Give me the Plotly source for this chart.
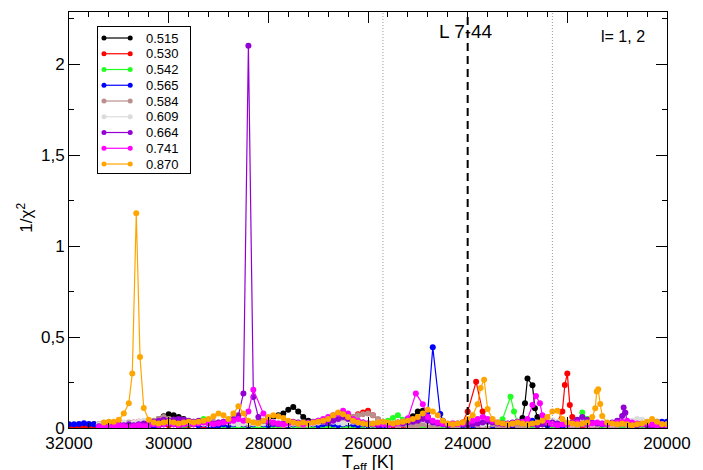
import plotly.graph_objects as go

N = None
# Teff grid (K), 32000 -> 20000 in steps of 100 K
teff = list(range(32000, 19999, -100))

masses = ["0.515", "0.530", "0.542", "0.565", "0.584", "0.609", "0.664", "0.741", "0.870"]
colors = ["#000000", "#ff0000", "#22ff22", "#0000ff", "#bc8f8f", "#dcdcdc", "#9400d3", "#ff00ff", "#ffa500"]

# ---- 0.515 (black)
black_vals = [
    N, N, N, N, N, .02, .015, .02, .01, .015, .02, .01, .015, .02, .01, .015, .02, .03, .05, .065,
    .075, .07, .06, .05, .035, .025, .02, .015, .02, .015, .01, .015, .02, .015, .01, .015, .02, .015, .02, .03,
    .045, .06, .07, .08, .10, .115, .09, .06, .04, .025, .02, .015, .02, .015, .02, .015, .02, .015, .01, .015,
    .02, .015, .02, .015, .02, .015, .02, .03, .045, .065, .09, .095, .06, .03, .02, .015, .02, .015, .01, .015,
    .02, .015, .02, .015, .02, .015, .02, .015, .02, .025, .035, .055, .272, .235, .06, .03, .02, .015, .02, .015,
    .02, .015, .02, .015, .02, .015, .01, .015, .02, .015, .02, .015, .01, .015, .02, .015, .01, .015, .02, .015,
    .02]
black_extra_t = [22850, 22650]
black_extra_v = [0.136, 0.108]

# ---- 0.530 (red)
red_vals = [
    .005, .005, .008, .01, .01, .012, .01, .012, .015, .02, .015, .02, .025, .03, .035, .02, .015, .01, .015, .02,
    .015, .02, .015, .01, .015, .02, .015, .01, .015, .02, .015, .01, .015, .02, .015, .01, .015, .02, .015, .01,
    .015, .02, .015, .01, .015, .02, .015, .01, .015, .02, .015, .02, .03, .025, .02, .03, .045, .06, .075, .085,
    .095, .07, .045, .03, .02, .015, .02, .015, .01, .015, .02, .015, .01, .015, .02, .015, .01, .015, .02, .03,
    .09, N, N, .09, .04, .02, .015, .02, .015, .01, .015, .02, .015, .01, .015, .02, .015, .02, .03, .09,
    .30, .06, .02, .015, .01, .015, .02, .015, .01, .015, .01, .015, .01, .005, .01, .005, .01, .005, .01, .005,
    .01]
red_extra_t = [23830, 22050, 21950]
red_extra_v = [0.254, 0.236, 0.126]

# ---- 0.542 (green)
green_vals = [
    N, N, N, N, N, N, N, .01, .015, .01, .015, .01, .015, .02, .015, .02, .025, .035, .045, .05,
    .04, .03, .02, .015, .02, .025, .035, .05, .04, .025, .015, .01, .015, .01, .005, .01, .015, .01, .005, .01,
    .01, .015, .01, .015, .02, .015, .01, .015, .01, .005, .01, .015, .01, .015, .02, .015, .01, .015, .01, .015,
    .02, .015, .02, .03, .04, .055, .07, .045, .03, .02, .015, .01, .015, .01, .005, .01, .015, .01, .005, .01,
    .015, .01, .015, .02, .015, .02, .025, .048, N, N, .03, .02, .015, .01, .015, .02, .015, .01, .015, .02,
    .015, .02, .04, .085, .05, .02, .015, .01, .015, .01, .005, .01, .015, .01, .005, .01, .005, .01, .005, .01,
    .01]
green_extra_t = [23140, 23070]
green_extra_v = [0.172, 0.09]

# ---- 0.565 (blue)
blue_vals = [
    .02, .02, .022, .026, .022, .02, .02, .022, .02, .018, .02, .015, .02, .01, .015, .02, .015, .01, .015, .02,
    .025, .02, .015, .02, .025, .02, .015, .02, .015, .01, .015, .02, .015, .02, .025, .02, .015, .02, .025, .02,
    .015, .02, .025, .02, .015, .02, .025, .03, .025, .02, .015, .02, .025, .02, .015, .02, .025, .02, .015, .02,
    .015, .02, .015, .01, .015, .02, .015, .02, .025, .03, .04, .06, .09, .443, N, .04, .02, .015, .02, .015,
    .02, .015, .01, .015, .02, .015, .02, .025, .02, .015, .02, .03, .035, .04, .03, .02, .015, .02, .015, .01,
    .015, .02, .015, .02, .025, .02, .015, .02, .025, .02, .015, .02, .025, .02, .025, .03, .025, .03, .035, .035,
    .035]
blue_extra_t = [24550]
blue_extra_v = [0.077]

# ---- 0.584 (rosy brown)
brown_vals = [
    N, N, N, N, N, N, .02, .025, .02, .03, .025, .02, .03, .025, .02, .03, .035, .04, .05, .06,
    .05, .045, .04, .035, .03, .035, .03, .025, .03, .035, .03, .035, .04, .035, .03, .025, .02, .03, .04, .035,
    .03, .025, .02, .015, .02, .025, .02, .015, .02, .025, .03, .035, .03, .04, .05, .04, .05, .06, .07, .075,
    .08, .07, .05, .035, .025, .02, .015, .02, .015, .01, .015, .02, .015, .01, .015, .02, .015, .01, .015, .02,
    .015, .02, .015, .01, .015, .02, .015, .01, .015, .02, .015, .01, .015, .02, .025, .03, .035, .04, .03, .02,
    .015, .01, .015, .02, .015, .01, .015, .02, .015, .01, .015, .02, .015, .01, .015, .02, .015, .01, .015, .01,
    .01]
brown_extra_t = []
brown_extra_v = []

# ---- 0.609 (light grey)
grey_vals = [
    N, N, N, N, N, N, .02, .03, .025, .03, .035, .03, .025, .03, .035, .04, .03, .025, .03, .035,
    .03, .025, .02, .025, .03, .035, .03, .025, .02, .025, .03, .035, .03, .025, .02, .025, .03, .025, .02, .025,
    .03, .035, .03, .025, .02, .025, .03, .025, .02, .025, .03, .035, .04, .035, .03, .025, .03, .035, .03, .025,
    .02, .025, .03, .025, .02, .025, .03, .035, .03, .04, .05, .045, .035, .03, .025, .02, .025, .03, .025, .02,
    .025, .03, .025, .02, .025, .03, .025, .02, .025, .03, .035, .03, .025, .02, .025, .03, .035, .04, .035, .03,
    .025, .02, .025, .03, .025, .02, .025, .03, .025, .02, .025, .03, .035, .04, .05, .045, .035, .03, .025, .02,
    .02]
grey_extra_t = []
grey_extra_v = []

# ---- 0.664 (dark violet)
violet_vals = [
    N, N, N, N, N, N, .01, .015, .01, .015, .02, .015, .02, .015, .02, .025, .03, .035, .04, .045,
    .04, .045, .05, .045, .04, .035, .04, .035, .03, .025, .03, .035, .04, .05, .07, .19, 2.10, .17, .06, .04,
    .03, .025, .02, .025, .03, .035, .03, .025, .03, .035, .04, .035, .03, .04, .05, .06, .05, .04, .035, .03,
    .025, .02, .015, .02, .025, .02, .03, .025, .03, .035, .04, .05, .04, .03, .025, .02, .015, .02, .025, .02,
    .015, .02, .025, .03, .035, .03, .025, .02, .025, .03, .035, .03, .025, .02, .015, .02, .025, .03, .025, .02,
    .025, .03, .045, .06, .045, .03, .025, .02, .025, .03, .04, .066, .035, .02, .015, .02, .015, .01, .015, .01,
    .015]
violet_extra_t = [20870, 20835]
violet_extra_v = [0.112, 0.084]

# ---- 0.741 (magenta)
magenta_vals = [
    N, N, N, N, N, N, .005, .01, .005, .01, .015, .01, .005, .01, .015, .01, .015, .02, .015, .02,
    .025, .02, .015, .02, .025, .02, .025, .03, .025, .02, .025, .03, .035, .04, .05, .04, .09, .21, N, .08,
    .04, .03, .025, .02, .025, .03, .025, .02, .025, .03, .04, .05, .06, .07, .08, .095, .08, .05, .04, .03,
    .025, .02, .025, .02, .015, .02, .025, .035, .053, N, N, .13, .06, .04, .03, .025, .02, .025, .02, .025,
    .03, .04, .05, .06, .05, .04, .03, .025, .02, .025, .03, .035, .05, .126, N, .07, .03, .02, .015, .02,
    .02, .025, .03, .025, .02, .025, .03, .025, .02, .025, .03, .035, .04, .03, .025, .02, .025, .02, .015, .02,
    .015]
magenta_extra_t = [25040, 22630, 22550]
magenta_extra_v = [0.19, 0.176, 0.136]

# ---- 0.870 (orange)
orange_vals = [
    N, N, N, N, N, N, N, .03, .035, .035, .045, .08, .136, N, N, .11, .045, .03, .025, .03,
    .035, .03, .025, .03, .035, .03, .035, .04, .05, .065, .08, .07, .05, .08, .12, .08, .04, .03, .025, .04,
    .06, .07, .065, .055, .04, .03, .025, .03, .025, .03, .035, .04, .05, .07, .085, .075, .06, .04, .03, .025,
    .02, .025, .03, .035, .03, .025, .03, .035, .04, .05, .06, .08, .10, .09, .07, .04, .025, .02, .025, .03,
    .05, .07, .13, N, .104, .05, .03, .025, .02, .025, .03, .025, .02, .025, .03, .04, .06, .09, .095, .05,
    .03, .025, .02, .025, .03, .06, N, .066, .03, .025, .02, .025, .02, .015, .02, .025, .035, .05, .035, .02,
    .02]
orange_extra_t = [30730, 30650, 30575, 23740, 23670, 21440, 21410, 21380, 21340]
orange_extra_v = [0.30, 1.18, 0.39, 0.22, 0.265, 0.108, 0.20, 0.213, 0.132]

series_vals = [black_vals, red_vals, green_vals, blue_vals, brown_vals, grey_vals,
               violet_vals, magenta_vals, orange_vals]
series_extra_t = [black_extra_t, red_extra_t, green_extra_t, blue_extra_t, brown_extra_t,
                  grey_extra_t, violet_extra_t, magenta_extra_t, orange_extra_t]
series_extra_v = [black_extra_v, red_extra_v, green_extra_v, blue_extra_v, brown_extra_v,
                  grey_extra_v, violet_extra_v, magenta_extra_v, orange_extra_v]

x_ticks_range = [32000, 20000]
y_top = 2.2857

FONT = "Liberation Sans, Arial, sans-serif"


def merge(vals, et, ev):
    assert len(vals) == len(teff), len(vals)
    pts = [(t, v) for t, v in zip(teff, vals) if v is not None] + list(zip(et, ev))
    pts.sort(key=lambda p: -p[0])
    return [p[0] for p in pts], [p[1] for p in pts]


fig = go.Figure()

for m, c, vals, et, ev in zip(masses, colors, series_vals, series_extra_t, series_extra_v):
    xs, ys = merge(vals, et, ev)
    fig.add_trace(go.Scatter(
        x=xs, y=ys, mode="lines+markers", name=m,
        line=dict(color=c, width=1.2),
        marker=dict(color=c, size=6),
        showlegend=False, xaxis="x", yaxis="y", cliponaxis=True,
    ))

# legend drawn in a small inset axis (row index = series order)
for i, (m, c) in enumerate(zip(masses, colors)):
    fig.add_trace(go.Scatter(
        x=[0.065, 0.35], y=[i, i], mode="lines+markers",
        line=dict(color=c, width=1.2), marker=dict(color=c, size=5),
        showlegend=False, xaxis="x2", yaxis="y2", hoverinfo="skip",
    ))
    fig.add_annotation(x=0.5, y=i, xref="x2", yref="y2", text=m, showarrow=False,
                       xanchor="left", yanchor="middle",
                       font=dict(family=FONT, size=13, color="black"))

axis_common = dict(
    showline=True, linecolor="black", linewidth=1, mirror="ticks",
    ticks="inside", ticklen=11, tickwidth=1, tickcolor="black",
    showgrid=False, zeroline=False, automargin=False,
    tickfont=dict(family=FONT, size=17, color="black"),
)

fig.update_layout(
    width=703, height=470,
    margin=dict(l=69, r=36, t=12, b=42),
    paper_bgcolor="white", plot_bgcolor="white",
    separators=",.",
    showlegend=False,
    xaxis=dict(range=x_ticks_range, tickmode="linear", tick0=20000, dtick=2000,
               tickformat="d",
               minor=dict(dtick=400, tick0=20000, ticks="inside", ticklen=5, tickcolor="black"),
               **axis_common),
    yaxis=dict(range=[0, y_top], tickmode="linear", tick0=0, dtick=0.5,
               minor=dict(dtick=0.25, tick0=0, ticks="inside", ticklen=5, tickcolor="black"),
               **axis_common),
    xaxis2=dict(domain=[0.0485, 0.2023], anchor="y2", range=[0, 1],
                showline=True, mirror=True, linecolor="black", linewidth=1,
                showticklabels=False, ticks="", showgrid=False, zeroline=False),
    yaxis2=dict(domain=[0.613, 0.964], anchor="x2", range=[8.57, -0.70],
                showline=True, mirror=True, linecolor="black", linewidth=1,
                showticklabels=False, ticks="", showgrid=False, zeroline=False),
)

# vertical reference lines
fig.add_shape(type="line", x0=25700, x1=25700, y0=0, y1=1, xref="x", yref="paper",
              line=dict(color="#9a9a9a", width=1, dash="1px,2px"))
fig.add_shape(type="line", x0=22300, x1=22300, y0=0, y1=1, xref="x", yref="paper",
              line=dict(color="#9a9a9a", width=1, dash="1px,2px"))
fig.add_shape(type="line", x0=24000, x1=24000, y0=0, y1=1, xref="x", yref="paper",
              line=dict(color="black", width=2, dash="8px,5px"))

fig.add_annotation(x=24040, y=2.18, xref="x", yref="y", text="L 7-44", showarrow=False,
                   font=dict(family=FONT, size=19, color="black"))
fig.add_annotation(x=20880, y=2.15, xref="x", yref="y", text="l= 1, 2", showarrow=False,
                   font=dict(family=FONT, size=16, color="black"))

# axis titles
fig.add_annotation(x=0.5, y=-0.052, xref="paper", yref="paper", text="T<sub>eff</sub> [K]",
                   showarrow=False, xanchor="center", yanchor="top",
                   font=dict(family=FONT, size=18, color="black"))
fig.add_annotation(x=-0.074, y=0.505, xref="paper", yref="paper", text="1/χ<sup>2</sup>",
                   showarrow=False, textangle=-90, xanchor="center", yanchor="middle",
                   font=dict(family=FONT, size=17, color="black"))

fig.write_html("out.html")
